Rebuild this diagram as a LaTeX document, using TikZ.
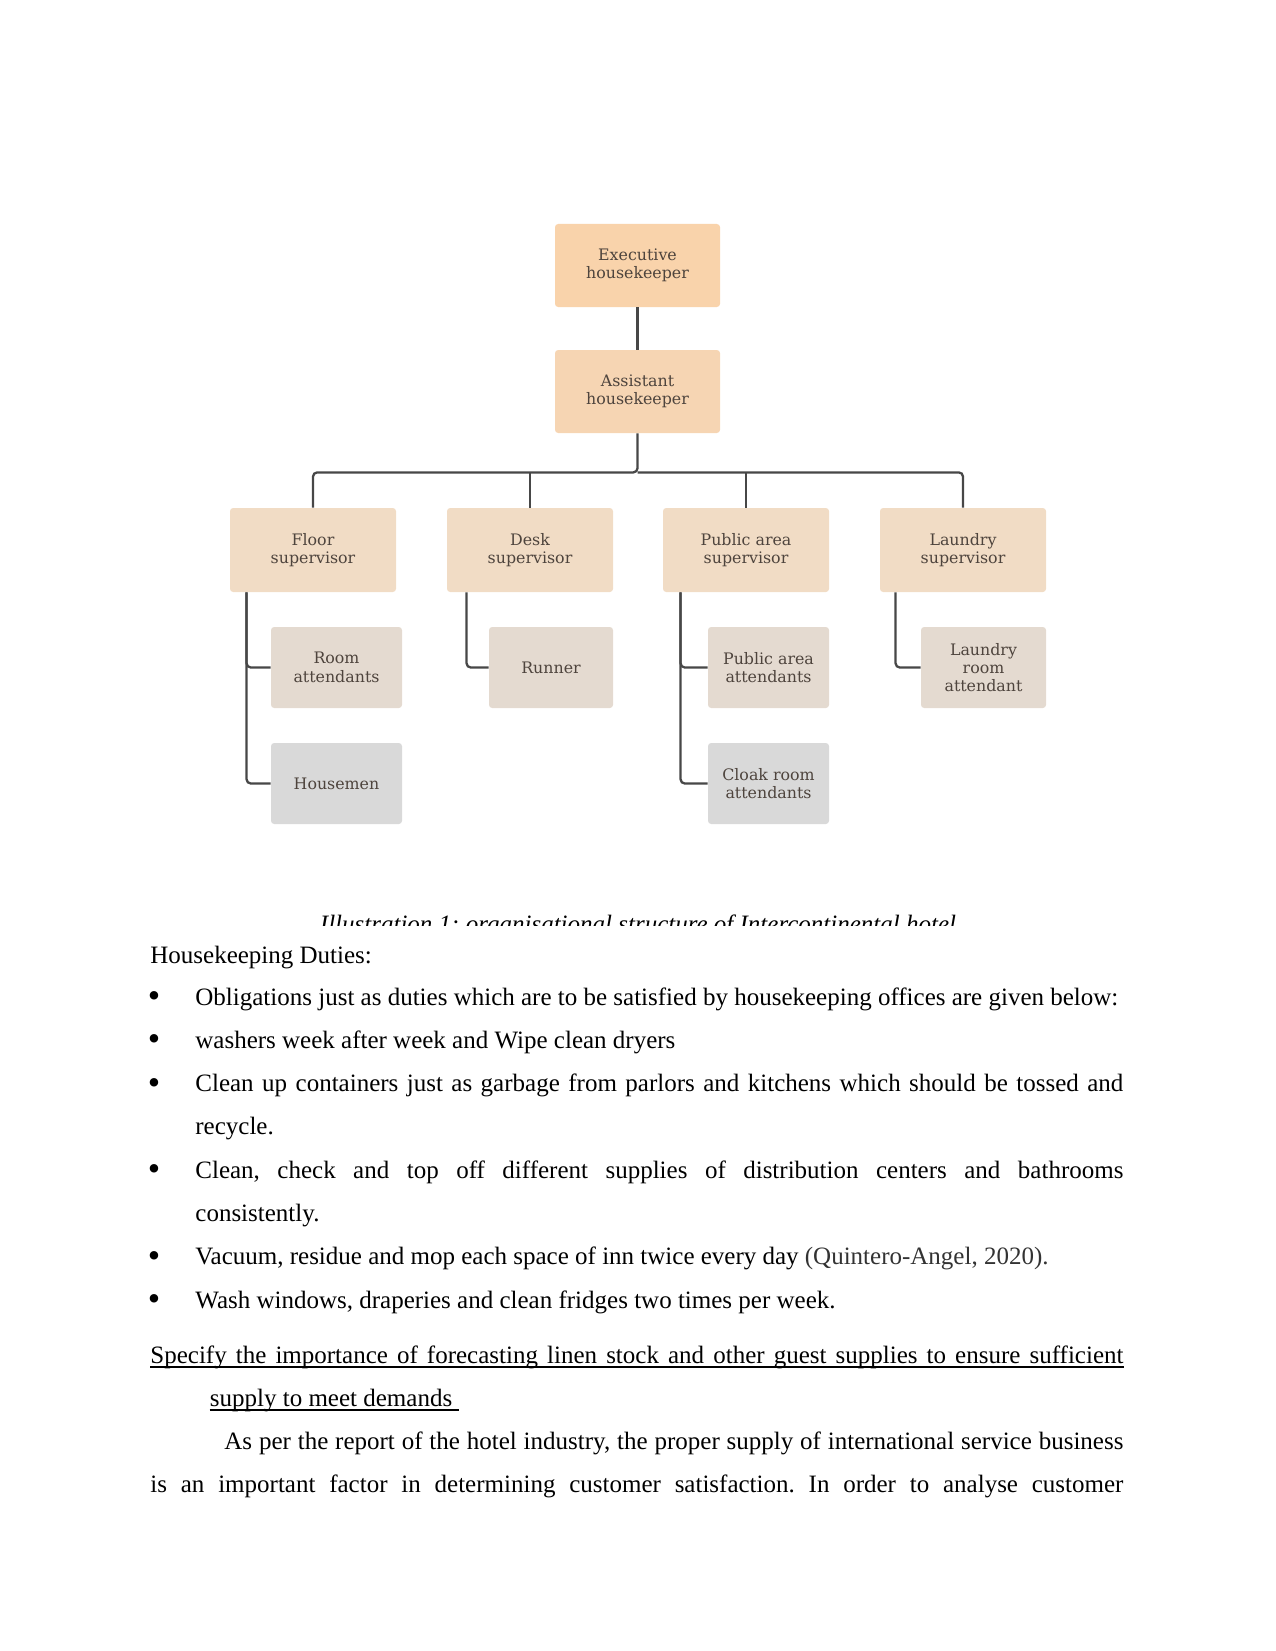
\documentclass[tikz,border=0pt]{standalone}
\usepackage{fontspec}
\setmainfont{Liberation Serif}
\newfontfamily\chartfont{DejaVu Serif}
\usetikzlibrary{calc}
\frenchspacing

\newdimen\px \px=0.48pt
\definecolor{execfill}{HTML}{F9D3AB}
\definecolor{asstfill}{HTML}{F6D5B3}
\definecolor{supfill}{HTML}{F1DCC5}
\definecolor{stafffill}{HTML}{E4DAD0}
\definecolor{greyfill}{HTML}{D9D9D9}
\definecolor{chartink}{HTML}{4E443D}
\definecolor{lineink}{HTML}{474747}

\tikzset{
	box/.style={rounded corners=1.5pt, inner sep=0pt, align=center, text=chartink,
		font=\chartfont\fontsize{7.6}{8.8}\selectfont},
	headbox/.style={box, fill=#1, minimum width=165\px, minimum height=83\px},
	supbox/.style={box, fill=supfill, minimum width=166\px, minimum height=84\px},
	staffbox/.style={box, fill=#1, minimum height=81\px},
	conn/.style={draw=lineink, line width=1.1pt, rounded corners=2pt},
	body/.style={inner sep=0pt, anchor=base west, font=\fontsize{12}{14}\selectfont},
	dot/.style={inner sep=0pt, anchor=base, font=\fontsize{12}{14}\selectfont}
}

\begin{document}
\begin{tikzpicture}[x=0.48pt, y=-0.48pt]
			
			\useasboundingbox (0,0) rectangle (1275,1651);
			
			% top of the chart
			\node[headbox=execfill] (exec) at (637.5,265.5) {Executive\\housekeeper};
			\node[headbox=asstfill] (asst) at (637.5,391.5) {Assistant\\housekeeper};
			
			% supervisors
			\node[supbox] (floor)   at (313,550) {Floor\\supervisor};
			\node[supbox] (desk)    at (530,550) {Desk\\supervisor};
			\node[supbox] (public)  at (746,550) {Public area\\supervisor};
			\node[supbox] (laundry) at (963,550) {Laundry\\supervisor};
			
			% staff under each supervisor
			\node[staffbox=stafffill, minimum width=131\px] (room)    at (336.5,667.5) {Room\\attendants};
			\node[staffbox=greyfill,  minimum width=131\px] (house)   at (336.5,783.5) {Housemen};
			\node[staffbox=stafffill, minimum width=124\px] (runner)  at (551,667.5)   {Runner};
			\node[staffbox=stafffill, minimum width=121\px] (pubatt)  at (768.5,667.5) {Public area\\attendants};
			\node[staffbox=greyfill,  minimum width=121\px] (cloak)   at (768.5,783.5) {Cloak room\\attendants};
			\node[staffbox=stafffill, minimum width=125\px] (laundatt) at (983.5,667.5) {Laundry\\room\\attendant};
			
			% connectors
			\coordinate (bus) at ($(asst.south)+(0,39)$);
			\draw[conn] (exec.south) -- (asst.north);
			\draw[conn] (floor.north) |- (bus) -- (asst.south);
			\draw[conn] (laundry.north) |- (bus);
			\draw[conn] (desk.north) -- (desk.north |- bus);
			\draw[conn] (public.north) -- (public.north |- bus);
			
			\coordinate (floorleg)   at ($(floor.south west)+(17,0)$);
			\coordinate (deskleg)    at ($(desk.south west)+(20,0)$);
			\coordinate (publicleg)  at ($(public.south west)+(18,0)$);
			\coordinate (laundryleg) at ($(laundry.south west)+(16,0)$);
			\draw[conn] (floorleg) |- (room.west);
			\draw[conn] (floorleg) |- (house.west);
			\draw[conn] (deskleg) |- (runner.west);
			\draw[conn] (publicleg) |- (pubatt.west);
			\draw[conn] (publicleg) |- (cloak.west);
			\draw[conn] (laundryleg) |- (laundatt.west);
			
			% caption, cut off at its lower half
			\begin{scope}
				\clip (0,0) rectangle (1275,925.5);
				\node[inner sep=0pt, anchor=base, font=\itshape\fontsize{12}{14}\selectfont] (caption) at (638,932)
					{Illustration 1: organisational structure of Intercontinental hotel};
			\end{scope}
			
			% text of the page
			\node[body] (duties) at (150,963) {Housekeeping Duties:};
			
			\foreach \y in {1005,1048.3,1091.6,1178.2,1264.8,1308.1}
				\node[dot] at (154,\y) {\raisebox{-1.2pt}{\fontsize{17}{17}\selectfont •}};
			
			\node[body] (b1)  at (195,1005)   {Obligations just as duties which are to be satisfied by housekeeping offices are given below:};
			\node[body] (b2)  at (195,1048.3) {washers week after week and Wipe clean dryers};
			\node[body] (b3)  at (195,1091.6) {\makebox[928\px][s]{Clean up containers just as garbage from parlors and kitchens which should be tossed and}};
			\node[body] (b3b) at (195,1134.9) {recycle.};
			\node[body] (b4)  at (195,1178.2) {\makebox[928\px][s]{Clean, check and top off different supplies of distribution centers and bathrooms}};
			\node[body] (b4b) at (195,1221.5) {consistently.};
			\node[body] (b5)  at (195,1264.8) {Vacuum, residue and mop each space of inn twice every day {\color{black!80}(Quintero-Angel, 2020).}};
			\node[body] (b6)  at (195,1308.1) {Wash windows, draperies and clean fridges two times per week.};
			
			\node[body] (head)  at (150,1363) {\makebox[973\px][s]{Specify the importance of forecasting linen stock and other guest supplies to ensure sufficient}};
			\node[body] (headb) at (209.5,1406) {supply to meet demands\ \mbox{}};
			\draw[line width=0.5pt] ($(head.base west)+(0,4)$) -- ($(head.base east)+(0,4)$);
			\draw[line width=0.5pt] ($(headb.base west)+(0,4)$) -- ($(headb.base east)+(0,4)$);
			
			\node[body] (para)  at (224,1449) {\makebox[899\px][s]{As per the report of the hotel industry, the proper supply of international service business}};
			\node[body] (parab) at (150,1492) {\makebox[973\px][s]{is an important factor in determining customer satisfaction. In order to analyse customer}};
			
		\end{tikzpicture}
\end{document}
